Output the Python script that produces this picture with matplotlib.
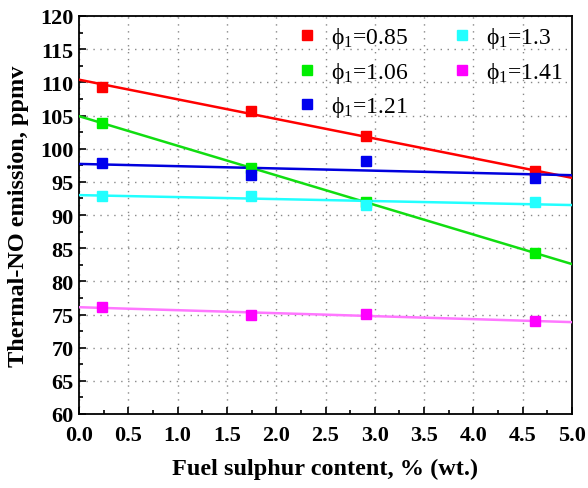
import numpy as np
import matplotlib
matplotlib.use("Agg")
import matplotlib.pyplot as plt
from matplotlib.ticker import MultipleLocator, FormatStrFormatter

plt.rcParams.update({
    "font.family": "Liberation Serif",
    "mathtext.fontset": "custom",
    "mathtext.rm": "Liberation Serif",
    "mathtext.it": "Liberation Serif",
})

# ---- data ----
sulphur = [0.23, 1.74, 2.91, 4.62]
phi = ["0.85", "1.06", "1.21", "1.3", "1.41"]
nox_085 = [109.3, 105.7, 101.9, 96.6]
nox_106 = [103.9, 97.1, 92.0, 84.3]
nox_121 = [97.8, 96.0, 98.2, 95.6]
nox_130 = [92.9, 92.9, 91.5, 91.9]
nox_141 = [76.1, 74.9, 75.15, 74.0]
# fitted lines: value at x=0 and x=5
fit_x = [0.0, 5.0]
fit_085 = [110.4, 95.6]
fit_106 = [104.9, 82.6]
fit_121 = [97.7, 96.0]
fit_130 = [93.0, 91.5]
fit_141 = [76.1, 73.85]

pts = [nox_085, nox_106, nox_121, nox_130, nox_141]
fits = [fit_085, fit_106, fit_121, fit_130, fit_141]
mcol = ["#FF0000", "#00EE00", "#0000EE", "#22FFFF", "#FF00FF"]
lcol = ["#FF0000", "#11DD11", "#0000DD", "#22FFFF", "#FF77FF"]

fig = plt.figure(figsize=(5.88, 4.89), dpi=100)
ax = fig.add_axes([79/588, 1-415/489, (572-79)/588, (415-17)/489])

handles = []
for p, f, mc, lc, ph in zip(pts, fits, mcol, lcol, phi):
    ax.plot(fit_x, f, color=lc, lw=1.8, zorder=3)
    h, = ax.plot(sulphur, p, ls="", marker="s", ms=7, color=mc, mec=mc,
                 zorder=4, label=r"$\mathrm{\phi_1}$=" + ph)
    handles.append(h)

ax.set_xlim(0, 5)
ax.set_ylim(60, 120)
ax.xaxis.set_major_locator(MultipleLocator(0.5))
ax.xaxis.set_minor_locator(MultipleLocator(0.25))
ax.yaxis.set_major_locator(MultipleLocator(5))
ax.yaxis.set_minor_locator(MultipleLocator(2.5))
ax.xaxis.set_major_formatter(FormatStrFormatter("%.1f"))
ax.tick_params(which="both", direction="in", top=False, right=False)
ax.tick_params(which="major", length=5, width=1.2, labelsize=16)
ax.tick_params(axis="x", which="major", pad=8)
ax.tick_params(axis="y", which="major", pad=4)
ax.tick_params(which="minor", length=3, width=1.2)
for lab in ax.get_xticklabels() + ax.get_yticklabels():
    lab.set_fontweight("bold")
for s in ax.spines.values():
    s.set_linewidth(1.3)
ax.grid(which="major", color="#888888", ls=(0, (1, 4)), lw=1.0)
ax.set_axisbelow(True)

ax.set_xlabel("Fuel sulphur content, % (wt.)", fontsize=17.5, fontweight="bold")
ax.set_ylabel("Thermal-NO emission, ppmv", fontsize=17.5, fontweight="bold")
ax.xaxis.set_label_coords(0.5, -0.11)
ax.yaxis.set_label_coords(-0.102, 0.5)

leg = ax.legend(handles=handles, ncol=2, loc="upper right", frameon=False,
                fontsize=17, handlelength=0.8, handletextpad=0.6, columnspacing=1.9,
                labelspacing=0.4, borderaxespad=0.2, borderpad=0.2,
                bbox_to_anchor=(1.0, 1.0))

fig.savefig("out.png", dpi=100)
